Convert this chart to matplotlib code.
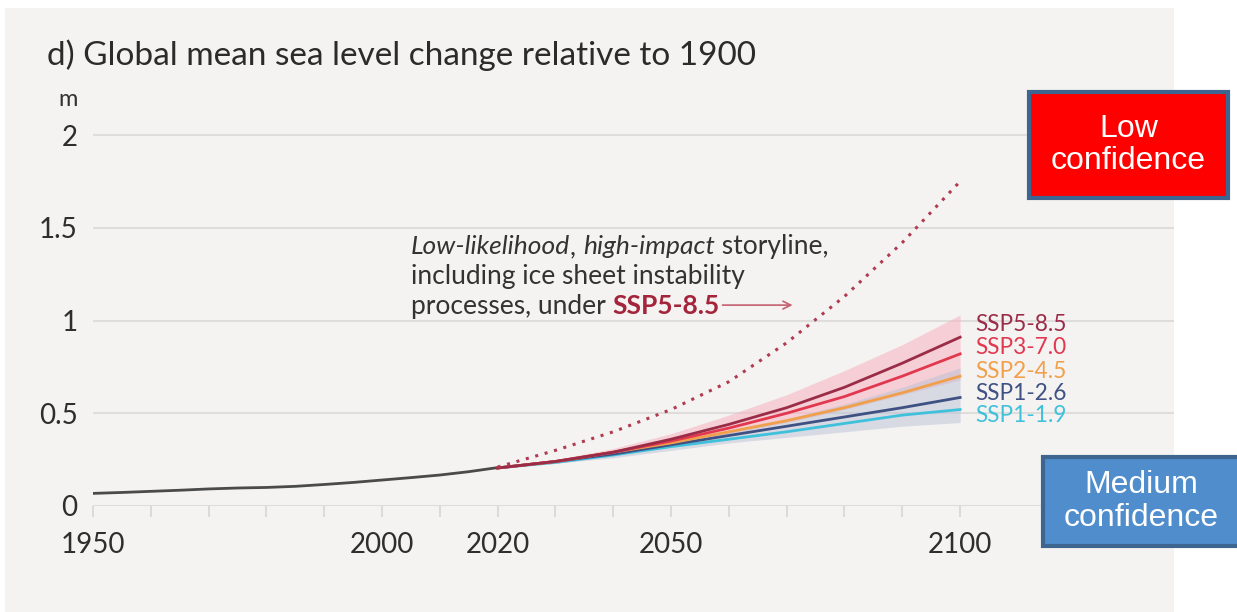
import matplotlib
matplotlib.use("Agg")
import matplotlib.pyplot as plt
from matplotlib.patches import Rectangle

plt.rcParams["font.family"] = ["Lato", "DejaVu Sans"]

# observed global mean sea level (m, relative to 1900)
obs_years = [1950, 1955, 1960, 1965, 1970, 1975, 1980, 1985, 1990, 1995, 2000, 2005, 2010, 2015, 2020]
obs_vals = [0.068, 0.073, 0.079, 0.085, 0.092, 0.097, 0.100, 0.106, 0.116, 0.127, 0.140, 0.153, 0.167, 0.185, 0.207]

# projections
proj_years = [2020, 2030, 2040, 2050, 2060, 2070, 2080, 2090, 2100]
ssp585 = [0.205, 0.24, 0.29, 0.36, 0.44, 0.53, 0.64, 0.77, 0.91]
ssp370 = [0.205, 0.24, 0.29, 0.35, 0.42, 0.50, 0.59, 0.70, 0.82]
ssp245 = [0.205, 0.24, 0.29, 0.34, 0.40, 0.46, 0.53, 0.61, 0.70]
ssp126 = [0.205, 0.24, 0.28, 0.33, 0.38, 0.43, 0.48, 0.53, 0.585]
ssp119 = [0.205, 0.235, 0.275, 0.32, 0.36, 0.40, 0.445, 0.49, 0.52]

ssp585_lo = [0.205, 0.23, 0.27, 0.33, 0.39, 0.45, 0.52, 0.60, 0.68]
ssp585_hi = [0.205, 0.25, 0.31, 0.39, 0.49, 0.60, 0.73, 0.87, 1.03]
ssp126_lo = [0.205, 0.23, 0.26, 0.30, 0.34, 0.37, 0.40, 0.43, 0.45]
ssp126_hi = [0.205, 0.245, 0.29, 0.345, 0.40, 0.47, 0.55, 0.64, 0.745]

storyline = [0.21, 0.30, 0.40, 0.52, 0.67, 0.88, 1.13, 1.42, 1.75]

scen_names = ["SSP5-8.5", "SSP3-7.0", "SSP2-4.5", "SSP1-2.6", "SSP1-1.9"]
scen_colors = ["#9b2c48", "#e2384f", "#f0a04b", "#3f5183", "#3fc1dc"]
scen_label_y = [0.976, 0.857, 0.724, 0.604, 0.487]

x_labeled = {1950: "1950", 2000: "2000", 2020: "2020", 2050: "2050", 2100: "2100"}

W, H = 1237, 612
fig = plt.figure(figsize=(W / 100, H / 100), dpi=100)
fig.patch.set_facecolor("white")
fig.add_artist(Rectangle((5 / W, 0), (1174 - 5) / W, (H - 8) / H,
                         transform=fig.transFigure, facecolor="#f4f3f1", edgecolor="none", zorder=0))

ax = fig.add_axes([93 / W, (H - 506) / H, (1174 - 93) / W, 2.2 * 185.5 / H])
ax.set_facecolor("none")
ax.set_xlim(1950, 2137)
ax.set_ylim(0, 2.2)
for s in ax.spines.values():
    s.set_visible(False)

ax.set_yticks([0, 0.5, 1, 1.5, 2])
ax.set_yticklabels(["0", "0.5", "1", "1.5", "2"])
ax.yaxis.grid(True, color="#dedddb", linewidth=1.5)
ax.set_axisbelow(True)
ax.tick_params(axis="y", length=0, pad=11, labelsize=20, labelcolor="#2e2e2e")

ticks = list(range(1950, 2101, 10))
ax.set_xticks(ticks)
ax.set_xticklabels([x_labeled.get(t, "") for t in ticks])
ax.tick_params(axis="x", length=8, width=1.2, color="#d6d5d3", pad=11, labelsize=20, labelcolor="#2e2e2e")

# bands
ax.fill_between(proj_years, ssp585_lo, ssp585_hi, color="#f7b3bf", alpha=0.55, linewidth=0, zorder=2)
ax.fill_between(proj_years, ssp126_lo, ssp126_hi, color="#b4bdd4", alpha=0.45, linewidth=0, zorder=2)

ax.plot(obs_years, obs_vals, color="#4a4a4a", linewidth=2, zorder=4)
for vals, c in zip([ssp119, ssp126, ssp245, ssp370, ssp585], scen_colors[::-1]):
    ax.plot(proj_years, vals, color=c, linewidth=2, zorder=4)
ax.plot(proj_years, storyline, color="#b03a50", linewidth=2.2, linestyle=(0, (1, 2.2)), zorder=4)

for name, c, y in zip(scen_names, scen_colors, scen_label_y):
    ax.text(2102.6, y, name, color=c, fontsize=16.3, va="center", ha="left")

# storyline annotation, drawn piece by piece
renderer = fig.canvas.get_renderer()
def write_line(x, y, pieces):
    for txt, style, weight, color in pieces:
        t = ax.text(x, y, txt, fontsize=19, style=style, weight=weight, color=color, va="baseline", ha="left")
        bb = t.get_window_extent(renderer=renderer)
        x = ax.transData.inverted().transform((bb.x1, 0))[0]
    return x

write_line(2005.0, 1.358, [("Low-likelihood", "italic", "normal", "#333333"),
                           (", ", "normal", "normal", "#333333"),
                           ("high-impact", "italic", "normal", "#333333"),
                           (" storyline,", "normal", "normal", "#333333")])
write_line(2005.0, 1.197, [("including ice sheet instability", "normal", "normal", "#333333")])
xe = write_line(2005.0, 1.035, [("processes, under ", "normal", "normal", "#333333"),
                                ("SSP5-8.5", "normal", "bold", "#a3243b")])
ax.annotate("", xy=(2071.5, 1.083), xytext=(xe, 1.083),
            arrowprops=dict(arrowstyle="->", color="#c4606f", lw=1.2, mutation_scale=14))

fig.text(47 / W, 1 - 55 / H, "d) Global mean sea level change relative to 1900", fontsize=24,
         color="#2b2b2b", va="center", ha="left")
fig.text(68 / W, 1 - 100 / H, "m", fontsize=17, color="#333333", va="center", ha="center")

# confidence boxes
def conf_box(x0, y0, x1, y1, face, label):
    fig.add_artist(Rectangle((x0 / W, 1 - y1 / H), (x1 - x0) / W, (y1 - y0) / H,
                             transform=fig.transFigure, facecolor=face, edgecolor="#3e6590",
                             linewidth=3, zorder=5))
    fig.text((x0 + x1) / 2 / W, 1 - (y0 + y1) / 2 / H, label, color="white", fontsize=23,
             family="Liberation Sans", ha="center", va="center", linespacing=1.12, zorder=6)

conf_box(1029, 92, 1228, 198, "#ff0000", "Low\nconfidence")
conf_box(1043, 457, 1240, 546, "#4f8dcd", "Medium\nconfidence")

fig.savefig("out.png", dpi=100)
